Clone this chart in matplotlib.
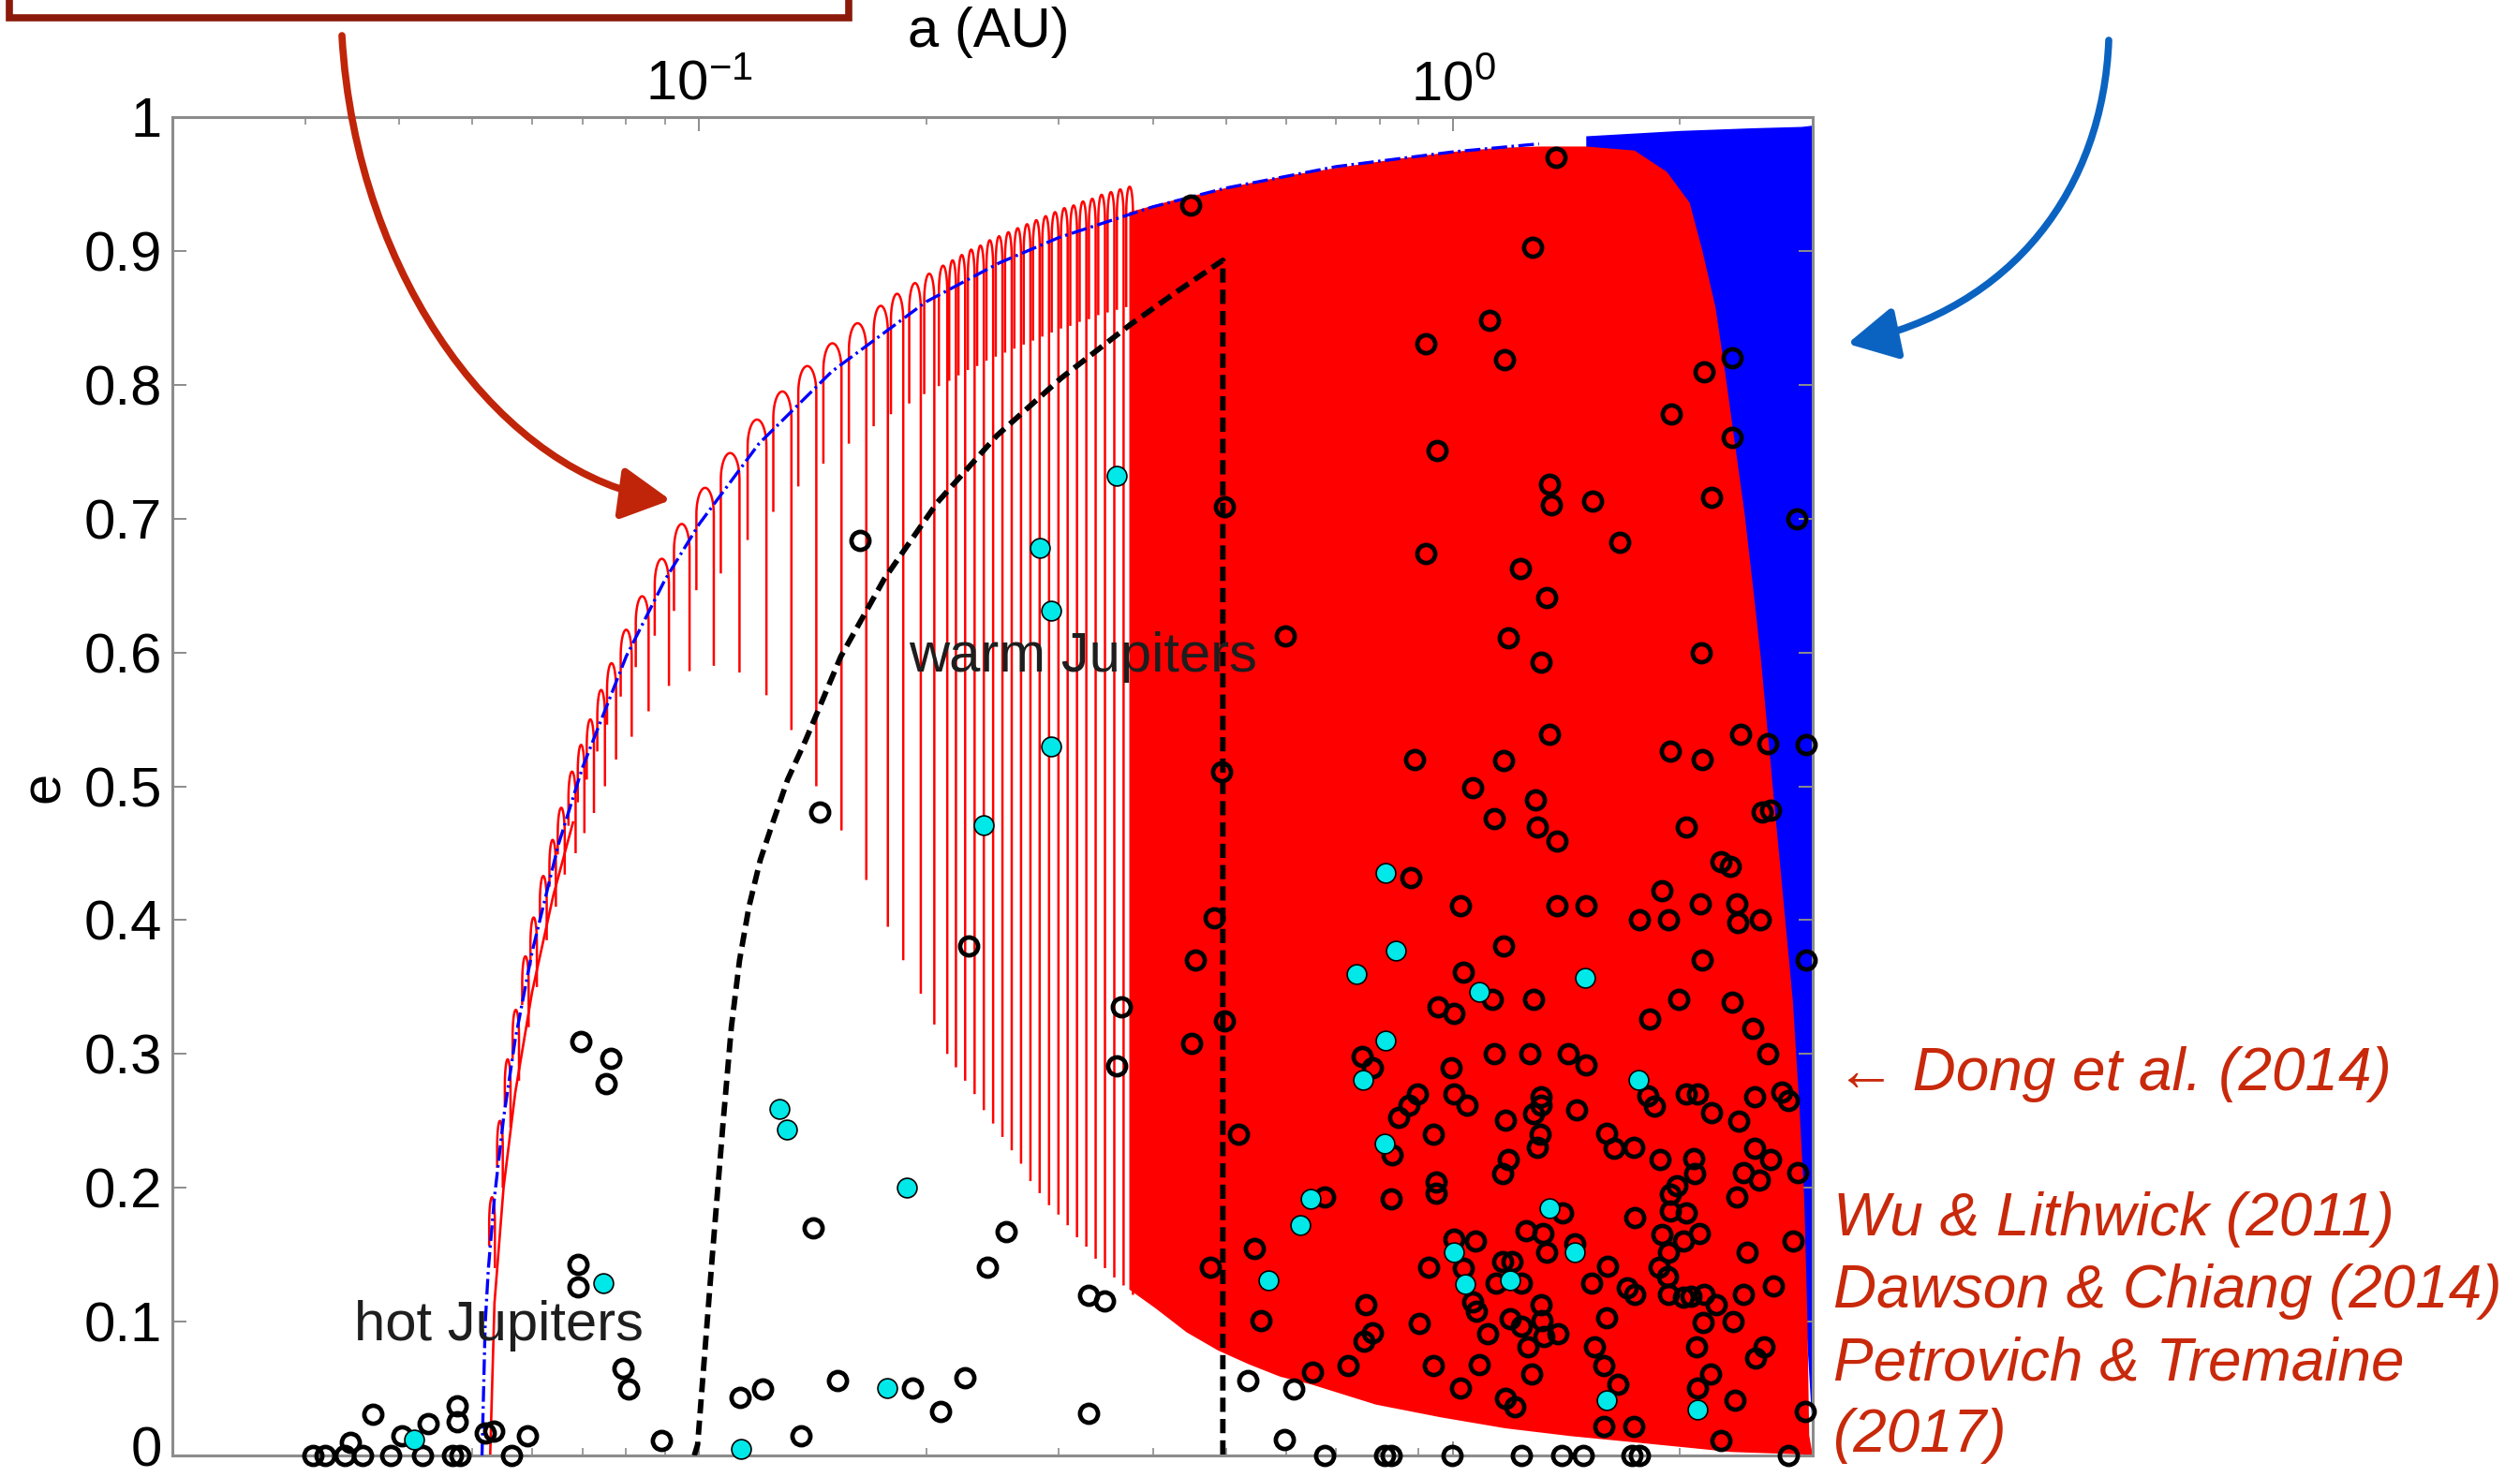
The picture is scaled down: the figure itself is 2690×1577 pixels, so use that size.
import numpy as np
import matplotlib
matplotlib.use("Agg")
import matplotlib.pyplot as plt
from matplotlib.path import Path
from matplotlib.patches import FancyArrowPatch, Rectangle
from matplotlib.collections import LineCollection
from matplotlib.ticker import FixedLocator, FixedFormatter, NullFormatter

plt.rcParams['font.family'] = ['Liberation Sans', 'DejaVu Sans']
plt.rcParams['mathtext.fontset'] = 'custom'
plt.rcParams['mathtext.rm'] = 'Liberation Sans'
plt.rcParams['mathtext.it'] = 'Liberation Sans:italic'
plt.rcParams['mathtext.bf'] = 'Liberation Sans:bold'

W, H = 2690, 1577

# ---------------- data ----------------
# axis ticks
xtick_vals = [0.1, 1.0]
xtick_labels = [r'$10^{-1}$', r'$10^{0}$']
xminor_vals = [0.03, 0.04, 0.05, 0.06, 0.07, 0.08, 0.09,
               0.2, 0.3, 0.4, 0.5, 0.6, 0.7, 0.8, 0.9, 2.0, 3.0]
ytick_vals = [0, 0.1, 0.2, 0.3, 0.4, 0.5, 0.6, 0.7, 0.8, 0.9, 1.0]
ytick_labels = ['0', '0.1', '0.2', '0.3', '0.4', '0.5', '0.6', '0.7', '0.8', '0.9', '1']

# upper (blue dash-dot) boundary
bl_a = [0.0515, 0.052, 0.0525, 0.0535, 0.055, 0.057, 0.06, 0.065, 0.07, 0.08, 0.09,
        0.1, 0.12, 0.15, 0.2, 0.25, 0.3, 0.4, 0.5, 0.7, 1.0, 1.3]
bl_e = [0.0, 0.098, 0.139, 0.193, 0.252, 0.311, 0.376, 0.456, 0.514, 0.597, 0.654,
        0.696, 0.756, 0.81, 0.862, 0.891, 0.91, 0.933, 0.947, 0.963, 0.974, 0.98]

# solid red edge at small a
red_edge_a = [0.0528, 0.0535, 0.055, 0.057, 0.060, 0.064, 0.068]
red_edge_e = [0.0, 0.114, 0.2, 0.271, 0.346, 0.418, 0.473]

# red comb of arches
comb_a = [0.0531, 0.0544, 0.0557, 0.0571, 0.0588, 0.0603, 0.0621, 0.0639, 0.0656, 0.0678,
          0.0697, 0.0717, 0.0741, 0.0765, 0.0800, 0.0840, 0.0892, 0.0948, 0.1018, 0.1099,
          0.1193, 0.1289, 0.1391, 0.1502, 0.1622, 0.1741, 0.1830, 0.1933, 0.2019, 0.2106,
          0.2168, 0.2230, 0.2295, 0.2361, 0.2429, 0.2499, 0.2571, 0.2645, 0.2722, 0.2800,
          0.2881, 0.2965, 0.3050, 0.3138, 0.3229, 0.3322, 0.3418, 0.3517, 0.3618, 0.3723]
comb_top = [0.173, 0.230, 0.276, 0.313, 0.353, 0.382, 0.413, 0.440, 0.464, 0.491,
            0.511, 0.530, 0.552, 0.572, 0.597, 0.622, 0.650, 0.676, 0.703, 0.729,
            0.754, 0.775, 0.794, 0.811, 0.826, 0.839, 0.848, 0.856, 0.863, 0.869,
            0.873, 0.877, 0.881, 0.884, 0.888, 0.891, 0.894, 0.897, 0.900, 0.903,
            0.906, 0.909, 0.912, 0.914, 0.917, 0.919, 0.922, 0.924, 0.926, 0.928]
comb_bot = [0.14, 0.20, 0.245, 0.28, 0.32, 0.35, 0.385, 0.41, 0.434, 0.45,
            0.465, 0.48, 0.50, 0.52, 0.537, 0.556, 0.575, 0.586, 0.59, 0.585,
            0.568, 0.542, 0.50, 0.467, 0.43, 0.395, 0.37, 0.345, 0.322, 0.30,
            0.29, 0.28, 0.27, 0.258, 0.248, 0.238, 0.228, 0.218, 0.205, 0.196,
            0.187, 0.18, 0.172, 0.163, 0.156, 0.147, 0.14, 0.133, 0.127, 0.12]

# solid red region
red_top_a = [0.372, 0.42, 0.5, 0.6, 0.7, 0.85, 1.0, 1.15, 1.3, 1.5,
             1.741, 1.922, 2.06, 2.142, 2.229, 2.296, 2.364, 2.435, 2.509, 2.559,
             2.661, 2.742, 2.824, 2.88, 2.924, 2.952, 2.968, 3.0]
red_top_e = [0.929, 0.937, 0.947, 0.956, 0.962, 0.969, 0.974, 0.977, 0.978, 0.978,
             0.975, 0.959, 0.936, 0.90, 0.858, 0.809, 0.757, 0.705, 0.641, 0.597,
             0.494, 0.416, 0.339, 0.261, 0.191, 0.10, 0.015, 0.0]
red_bot_a = [3.0, 2.338, 2.121, 1.741, 1.430, 1.173, 0.9632, 0.790, 0.6491, 0.5902,
             0.5365, 0.4876, 0.4432, 0.4029, 0.372]
red_bot_e = [0.0005, 0.0026, 0.005, 0.0098, 0.0145, 0.0203, 0.0285, 0.038, 0.053, 0.0588,
             0.068, 0.0785, 0.092, 0.110, 0.124]

# blue region (visible right of the red one)
blue_a = [1.5, 2.0, 2.5, 2.9, 3.0]
blue_top = [0.986, 0.990, 0.992, 0.993, 0.994]
blue_bot = [0.5, 0.5, 0.4, 0.15, 0.012]

# black dashed boundary
dash_a = [0.0985, 0.0995, 0.104, 0.1076, 0.1103, 0.1131, 0.1164, 0.1205, 0.1247, 0.1310,
          0.1383, 0.1541, 0.176, 0.2069, 0.2482, 0.3021, 0.3732, 0.4262, 0.495, 0.495]
dash_e = [0.0, 0.008, 0.147, 0.25, 0.32, 0.37, 0.41, 0.445, 0.47, 0.505,
          0.534, 0.597, 0.655, 0.712, 0.762, 0.805, 0.845, 0.868, 0.893, 0.0]

# planets (black open circles)
black_a = [0.0307, 0.0319, 0.0339, 0.0344, 0.0358, 0.0369, 0.0390, 0.0403, 0.0430, 0.0437,
           0.0477, 0.0477, 0.0470, 0.0481, 0.0520, 0.0533, 0.0564, 0.0591, 0.0697, 0.0764,
           0.0753, 0.0690, 0.0690, 0.0792, 0.0807, 0.0891, 0.1133, 0.1215, 0.1365, 0.1416,
           0.1524, 0.1917, 0.1632, 0.1446, 0.2275, 0.4814, 0.4547, 0.3632, 0.4978, 0.4502,
           0.3581, 0.5197, 0.2551, 0.2410, 0.3286, 0.3446, 0.4769, 0.5449, 0.5556, 0.5348,
           0.6143, 0.2250, 0.2088, 0.3286, 0.5970, 0.4483, 0.4971, 0.5996, 0.4931, 0.6503,
           1.368, 1.274, 1.117, 0.9191, 1.170, 2.343, 2.155, 1.948, 2.343, 0.9513,
           1.341, 1.350, 1.532, 2.203, 2.855, 1.662, 0.9191, 1.227, 1.330, 1.185,
           2.133, 1.310,
           1.341, 0.8898, 1.168, 1.942, 2.139, 2.408, 2.612, 2.940, 1.063, 1.285,
           1.134, 1.295, 1.375, 2.037, 2.574, 2.638, 0.8789, 2.264, 2.332, 1.024,
           1.375, 1.503, 1.895, 1.768, 1.932, 2.129, 2.378, 2.385, 2.556, 1.168,
           2.139, 2.940, 1.032, 1.126, 1.280, 1.990, 2.343, 0.9541, 1.004, 1.821,
           2.499, 2.612, 1.134, 1.264, 1.423, 1.503, 0.7581, 0.7807, 0.9939, 1.812,
           1.852, 0.8964, 0.8746, 0.8475, 1.004, 1.0426, 1.308, 1.308, 1.280, 1.173,
           1.458, 2.041, 2.112, 2.203, 2.394, 2.511, 2.731, 2.786, 0.9420, 1.306,
           1.295, 1.597, 1.634, 1.739, 1.882, 2.085, 2.091, 2.515, 2.634, 2.548,
           2.425, 2.869, 0.8306, 1.185, 1.162, 0.9494, 0.9494, 1.981, 1.942, 2.378,
           0.6764, 0.8282,
           1.742, 1.942, 2.041, 1.895, 2.021, 2.123, 1.932, 1.877, 1.923, 1.932,
           2.021, 2.071, 2.155, 2.231, 2.144, 2.355, 2.425, 2.664, 2.827, 2.458,
           2.102, 2.586, 2.523, 2.197, 2.112, 2.366, 2.935, 2.264, 2.786, 1.603,
           1.525, 1.700, 1.742, 1.597, 1.540, 1.586, 1.655, 1.586, 1.739, 1.725,
           1.768, 1.399, 1.2515, 1.3146, 1.3315, 1.451, 1.162, 1.197, 1.1394, 1.2326,
           1.0018, 1.0715, 1.032, 1.063, 1.0737, 0.9282, 0.7655, 0.9008, 0.7807, 0.7618,
           1.1112, 1.191, 1.2326, 1.308, 1.311, 1.2577, 1.3185, 1.3774, 1.270, 1.0843,
           0.942, 0.7263, 1.0222, 1.173, 1.2086,
           0.6764, 0.8113, 0.8274, 0.9969, 1.2326, 1.3952, 1.4872]
black_e = [0, 0, 0, 0.0097, 0, 0.0305, 0, 0.0149, 0, 0.0236,
           0.0374, 0.0253, 0, 0, 0.0167, 0.0184, 0, 0.0149, 0.309, 0.297,
           0.2775, 0.143, 0.126, 0.065, 0.0495, 0.0115, 0.0434, 0.05, 0.015, 0.170,
           0.056, 0.0506, 0.684, 0.481, 0.381, 0.402, 0.370, 0.335, 0.325, 0.308,
           0.291, 0.240, 0.167, 0.141, 0.12, 0.1156, 0.141, 0.155, 0.101, 0.0558,
           0.050, 0.058, 0.033, 0.0316, 0.012, 0.934, 0.709, 0.612, 0.511, 0.062,
           0.970, 0.903, 0.848, 0.831, 0.819, 0.820, 0.81, 0.778, 0.761, 0.751,
           0.726, 0.710, 0.713, 0.716, 0.70, 0.682, 0.674, 0.6625, 0.641, 0.611,
           0.600, 0.593,
           0.539, 0.52, 0.519, 0.526, 0.52, 0.539, 0.532, 0.531, 0.499, 0.49,
           0.476, 0.4695, 0.459, 0.4695, 0.481, 0.482, 0.432, 0.444, 0.44, 0.411,
           0.411, 0.411, 0.422, 0.40, 0.40, 0.4125, 0.412, 0.3985, 0.40, 0.381,
           0.370, 0.37, 0.361, 0.341, 0.341, 0.341, 0.339, 0.335, 0.330, 0.326,
           0.319, 0.30, 0.30, 0.30, 0.30, 0.2916, 0.298, 0.29, 0.2895, 0.269,
           0.261, 0.270, 0.2616, 0.2528, 0.270, 0.2616, 0.268, 0.2616, 0.2557, 0.2507,
           0.258, 0.27, 0.27, 0.2564, 0.250, 0.268, 0.2715, 0.2655, 0.240, 0.240,
           0.2305, 0.2405, 0.2297, 0.2305, 0.221, 0.222, 0.2106, 0.2297, 0.221, 0.206,
           0.211, 0.211, 0.2248, 0.221, 0.2106, 0.204, 0.196, 0.2015, 0.195, 0.193,
           0.193, 0.192,
           0.178, 0.1824, 0.181, 0.165, 0.160, 0.166, 0.152, 0.1404, 0.1334, 0.1206,
           0.118, 0.119, 0.1206, 0.1125, 0.0996, 0.10, 0.1206, 0.1264, 0.16, 0.152,
           0.081, 0.081, 0.0728, 0.0611, 0.0506, 0.0413, 0.0331, 0.011, 0.0, 0.1416,
           0.1288, 0.1255, 0.1206, 0.103, 0.081, 0.067, 0.053, 0.0215, 0.0215, 0.0,
           0.0, 0.181, 0.168, 0.166, 0.152, 0.158, 0.145, 0.145, 0.129, 0.129,
           0.1614, 0.16, 0.140, 0.115, 0.108, 0.141, 0.113, 0.0985, 0.0919, 0.0856,
           0.0907, 0.102, 0.0966, 0.1125, 0.1008, 0.081, 0.089, 0.0907, 0.061, 0.068,
           0.067, 0.067, 0.0506, 0.0425, 0.0366,
           0, 0, 0, 0, 0, 0, 0]

# planets (cyan filled circles)
cyan_a = [0.0418, 0.0747, 0.1137, 0.1278, 0.1307, 0.1883, 0.1776, 0.2386, 0.2930, 0.2926,
          0.2834, 0.3581, 0.5689, 0.6262, 0.6472, 0.8146, 0.8392, 0.7451, 1.0843, 1.4946,
          0.8146, 0.7603, 1.7628, 0.8123, 1.341, 1.451, 1.0018, 1.0374, 1.191, 1.597, 2.112]
cyan_e = [0.012, 0.1286, 0.005, 0.259, 0.2435, 0.20, 0.0506, 0.4708, 0.530, 0.631,
          0.678, 0.732, 0.131, 0.172, 0.192, 0.435, 0.3775, 0.3595, 0.3465, 0.357,
          0.310, 0.2805, 0.2805, 0.233, 0.185, 0.152, 0.152, 0.128, 0.131, 0.0413, 0.0343]

region_labels = ['hot Jupiters', 'warm Jupiters']
region_label_a = [0.0348, 0.1894]
region_label_e = [0.086, 0.586]

refs = ['\u2190 Dong et al. (2014)', 'Wu & Lithwick (2011)', 'Dawson & Chiang (2014)',
        'Petrovich & Tremaine', '(2017)']

# ---------------- figure ----------------
fig = plt.figure(figsize=(W / 100, H / 100), dpi=100)
fig.patch.set_facecolor('white')


def fx(px):
    return px / W


def fy(py):
    return 1 - py / H


ax = fig.add_axes([fx(184), fy(1554), (1935 - 184) / W, (1554 - 125) / H])
ax.set_xscale('log')
ax.set_xlim(0.02, 3)
ax.set_ylim(0, 1)

RED = '#FF0000'
BLUE = '#0000FF'

# blue region
ax.fill_between(blue_a, blue_bot, blue_top, color=BLUE, lw=0, zorder=1)
# solid red region
ax.fill(list(red_top_a) + list(red_bot_a), list(red_top_e) + list(red_bot_e),
        color=RED, lw=0, zorder=2)

# comb of arches
la = np.log10(comb_a)
spacing = np.gradient(la)
segs = []
th = np.linspace(0, np.pi, 24)
for i in range(len(comb_a)):
    w = 0.36 * spacing[i]
    bump = 0.02
    short = comb_top[i] - min(0.07, 0.5 * (comb_top[i] - comb_bot[i]))
    xs = np.concatenate([[la[i] - w], la[i] - w * np.cos(th), [la[i] + w]])
    ys = np.concatenate([[short], comb_top[i] + bump * np.sin(th), [comb_bot[i]]])
    segs.append(np.column_stack([10 ** xs, ys]))
ax.add_collection(LineCollection(segs, colors=RED, linewidths=1.8, zorder=2.2))

ax.plot(red_edge_a, red_edge_e, color=RED, lw=1.9, zorder=2.3)
ax.plot(bl_a, bl_e, color=BLUE, lw=2.4, dashes=(5, 1.4, 0.8, 1.4), zorder=3)
ax.plot(dash_a, dash_e, color='black', lw=4.2, dashes=(2.6, 1.3), zorder=4)

ax.plot(black_a, black_e, 'o', ms=13.8, mfc='none', mec='black', mew=3.4,
        clip_on=False, zorder=5)
ax.plot(cyan_a, cyan_e, 'o', ms=15, mfc='#00E8E8', mec='black', mew=1.2,
        clip_on=False, zorder=6)

for lab, a, e in zip(region_labels, region_label_a, region_label_e):
    ax.text(a, e, lab, fontsize=43, color='#1e1e1e', ha='left', va='baseline', zorder=7)

# axes styling
for sp in ax.spines.values():
    sp.set_color('#8c8c8c')
    sp.set_linewidth(2.2)
ax.xaxis.set_major_locator(FixedLocator(xtick_vals))
ax.xaxis.set_major_formatter(FixedFormatter(xtick_labels))
ax.xaxis.set_minor_locator(FixedLocator(xminor_vals))
ax.xaxis.set_minor_formatter(NullFormatter())
ax.yaxis.set_major_locator(FixedLocator(ytick_vals))
# the bottom label "0" sits on the figure edge; it is drawn separately below
ax.yaxis.set_major_formatter(FixedFormatter([''] + ytick_labels[1:]))
ax.tick_params(which='both', direction='in', top=True, bottom=True, left=True, right=True,
               color='#8c8c8c', labelcolor='black')
ax.tick_params(which='major', length=11, width=1.4)
ax.tick_params(which='minor', length=6, width=1.2)
ax.tick_params(axis='x', labeltop=True, labelbottom=False, labelsize=43, pad=4)
ax.tick_params(axis='y', labelsize=43, pad=8)
fig.text(fx(184 - 11), 0.0, ytick_labels[0], fontsize=43, ha='right', va='bottom')

fig.text(fx(1055), fy(34), 'a (AU)', fontsize=43, ha='center', va='center')
fig.text(fx(48), fy(840), 'e', fontsize=43, ha='center', va='center', rotation=90)

# reference annotations
ann_color = '#C8290B'
ref_x = [1960, 1957, 1957, 1957, 1957]
ref_base = [1164, 1319, 1396, 1473, 1550]
for t, x, yb in zip(refs, ref_x, ref_base):
    fig.text(fx(x), fy(yb), t, fontsize=46, fontstyle='italic', color=ann_color,
             ha='left', va='baseline')

# top-left framed box (cut by the figure edge)
fig.add_artist(Rectangle((fx(10), fy(19)), (906 - 10) / W, 0.3, transform=fig.transFigure,
                         facecolor='white', edgecolor='#8B1A0A', lw=5.5, clip_on=False,
                         zorder=1))

# curved arrows
red_path = Path([(fx(365), fy(38)), (fx(380), fy(300)), (fx(540), fy(510)), (fx(716), fy(534))],
                [Path.MOVETO, Path.CURVE4, Path.CURVE4, Path.CURVE4])
fig.add_artist(FancyArrowPatch(path=red_path, arrowstyle='-|>,head_length=32,head_width=17',
                               mutation_scale=1, lw=5.5, color='#C0250A',
                               transform=fig.transFigure, shrinkA=0, shrinkB=0, zorder=3))
blue_path = Path([(fx(2251), fy(43)), (fx(2245), fy(200)), (fx(2150), fy(330)), (fx(1972), fy(367))],
                 [Path.MOVETO, Path.CURVE4, Path.CURVE4, Path.CURVE4])
fig.add_artist(FancyArrowPatch(path=blue_path, arrowstyle='-|>,head_length=32,head_width=17',
                               mutation_scale=1, lw=5.5, color='#0B63C1',
                               transform=fig.transFigure, shrinkA=0, shrinkB=0, zorder=3))

fig.savefig('out.png', dpi=100, facecolor='white')
